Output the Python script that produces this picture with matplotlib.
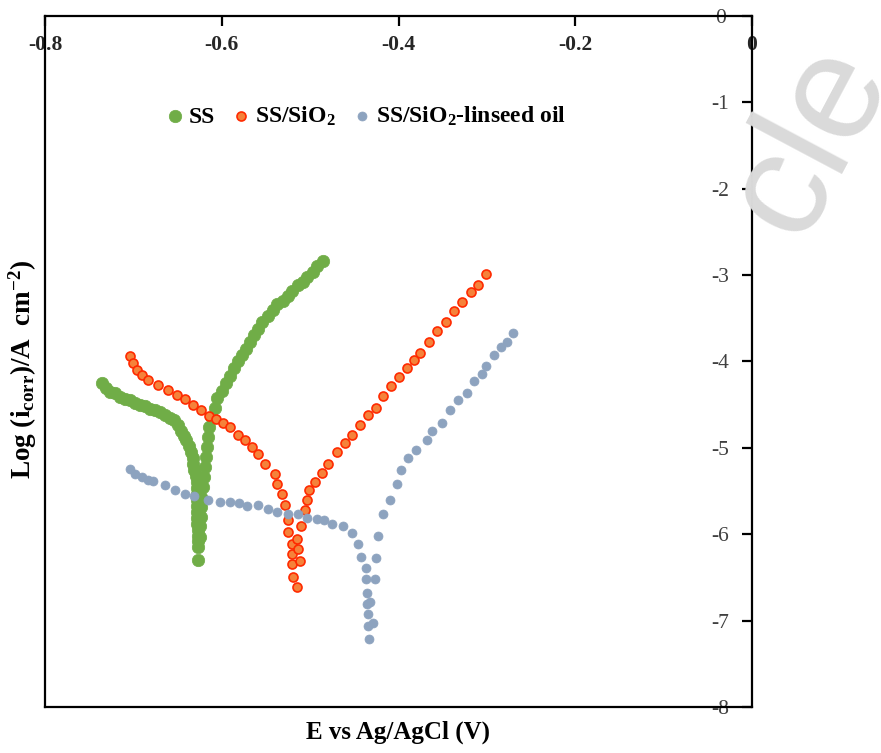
import matplotlib

matplotlib.use("Agg")
import matplotlib.pyplot as plt  # noqa: E402

plt.rcParams["font.family"] = ["Liberation Serif", "DejaVu Serif"]
plt.rcParams["axes.unicode_minus"] = False
plt.rcParams["mathtext.fontset"] = "custom"
plt.rcParams["mathtext.rm"] = "Liberation Serif:bold"
plt.rcParams["mathtext.it"] = "Liberation Serif:bold:italic"
plt.rcParams["mathtext.bf"] = "Liberation Serif:bold"

# --- SS: cathodic branch (down to Ecorr), then anodic branch (up)
ss_cath_E = [-0.736, -0.731, -0.727, -0.721, -0.715, -0.710, -0.704, -0.698,
             -0.693, -0.687, -0.681, -0.676, -0.670, -0.664, -0.659, -0.654,
             -0.650, -0.646, -0.643, -0.640, -0.637, -0.635, -0.633, -0.632,
             -0.631, -0.629, -0.628, -0.628, -0.628, -0.628, -0.628, -0.628,
             -0.628, -0.628, -0.627, -0.627, -0.627, -0.627, -0.627]
ss_cath_logi = [-4.25, -4.31, -4.35, -4.37, -4.41, -4.43, -4.45, -4.48,
                -4.50, -4.52, -4.55, -4.56, -4.58, -4.62, -4.65, -4.68,
                -4.74, -4.80, -4.86, -4.91, -4.98, -5.05, -5.12, -5.19,
                -5.26, -5.33, -5.40, -5.47, -5.53, -5.60, -5.67, -5.74,
                -5.81, -5.88, -5.95, -6.02, -6.08, -6.15, -6.30]
ss_anod_E = [-0.625, -0.625, -0.624, -0.623, -0.623, -0.621, -0.620, -0.619,
             -0.618, -0.617, -0.616, -0.614, -0.611, -0.608, -0.605, -0.600,
             -0.595, -0.591, -0.586, -0.582, -0.577, -0.573, -0.568, -0.564,
             -0.559, -0.554, -0.548, -0.542, -0.537, -0.531, -0.525, -0.520,
             -0.514, -0.508, -0.503, -0.497, -0.492, -0.486]
ss_anod_logi = [-6.03, -5.91, -5.80, -5.68, -5.57, -5.45, -5.34, -5.22,
                -5.11, -4.99, -4.88, -4.76, -4.65, -4.54, -4.42, -4.34,
                -4.25, -4.17, -4.08, -4.00, -3.92, -3.85, -3.77, -3.69,
                -3.62, -3.54, -3.47, -3.40, -3.34, -3.30, -3.24, -3.18,
                -3.12, -3.08, -3.02, -2.96, -2.90, -2.84]

# --- SS/SiO2
sio2_cath_E = [-0.704, -0.701, -0.696, -0.690, -0.684, -0.672, -0.661, -0.651,
               -0.642, -0.633, -0.623, -0.614, -0.606, -0.599, -0.591, -0.582,
               -0.574, -0.566, -0.559, -0.551, -0.540, -0.537, -0.532, -0.529,
               -0.525, -0.525, -0.521, -0.521, -0.520, -0.519, -0.515]
sio2_cath_logi = [-3.94, -4.02, -4.10, -4.16, -4.21, -4.27, -4.33, -4.39,
                  -4.44, -4.50, -4.56, -4.63, -4.67, -4.71, -4.76, -4.85,
                  -4.91, -4.99, -5.07, -5.19, -5.30, -5.42, -5.53, -5.66,
                  -5.83, -5.97, -6.11, -6.23, -6.35, -6.49, -6.61]
sio2_anod_E = [-0.512, -0.514, -0.515, -0.510, -0.506, -0.504, -0.501, -0.495,
               -0.487, -0.480, -0.470, -0.461, -0.453, -0.444, -0.435, -0.425,
               -0.418, -0.408, -0.399, -0.390, -0.382, -0.376, -0.365, -0.356,
               -0.346, -0.337, -0.328, -0.318, -0.310, -0.301]
sio2_anod_logi = [-6.31, -6.17, -6.06, -5.91, -5.72, -5.60, -5.49, -5.40,
                  -5.29, -5.19, -5.05, -4.94, -4.85, -4.73, -4.62, -4.54,
                  -4.40, -4.28, -4.18, -4.08, -3.98, -3.90, -3.77, -3.65,
                  -3.54, -3.42, -3.31, -3.19, -3.11, -2.99]

# --- SS/SiO2-linseed oil
oil_cath_E = [-0.704, -0.698, -0.690, -0.684, -0.678, -0.664, -0.653, -0.642,
              -0.631, -0.616, -0.602, -0.591, -0.580, -0.571, -0.559, -0.548,
              -0.537, -0.525, -0.514, -0.503, -0.492, -0.484, -0.475, -0.463,
              -0.453, -0.446, -0.442, -0.437, -0.437, -0.436, -0.436, -0.435,
              -0.435, -0.433]
oil_cath_logi = [-5.25, -5.30, -5.34, -5.37, -5.38, -5.43, -5.49, -5.53,
                 -5.56, -5.60, -5.63, -5.63, -5.64, -5.67, -5.66, -5.71,
                 -5.74, -5.76, -5.77, -5.81, -5.82, -5.83, -5.88, -5.91,
                 -5.99, -6.11, -6.26, -6.39, -6.52, -6.68, -6.81, -6.92,
                 -7.06, -7.21]
oil_anod_E = [-0.429, -0.432, -0.427, -0.425, -0.423, -0.417, -0.410, -0.402,
              -0.397, -0.389, -0.380, -0.368, -0.362, -0.351, -0.342, -0.333,
              -0.323, -0.315, -0.306, -0.301, -0.292, -0.284, -0.277, -0.270]
oil_anod_logi = [-7.03, -6.79, -6.52, -6.27, -6.02, -5.77, -5.60, -5.42,
                 -5.26, -5.12, -5.02, -4.91, -4.80, -4.71, -4.56, -4.45,
                 -4.36, -4.23, -4.14, -4.05, -3.93, -3.83, -3.77, -3.67]

x_ticks = [-0.8, -0.6, -0.4, -0.2, 0.0]
x_labels = ["-0.8", "-0.6", "-0.4", "-0.2", "0"]
y_ticks = [0, -1, -2, -3, -4, -5, -6, -7, -8]

fig = plt.figure(figsize=(8.81, 7.53), dpi=100)

# faint journal watermark at the top right (runs off the edge, as in the source)
fig.text(0.92, 0.815, "cle", rotation=62, ha="center", va="center",
         fontsize=108, color="#dadada", family="Liberation Sans", zorder=0)

ax = fig.add_axes([0.0511, 0.0611, 0.8025, 0.9177])
ax.patch.set_alpha(0)

ax.scatter(ss_cath_E + ss_anod_E, ss_cath_logi + ss_anod_logi, s=80,
           color="#70AD47", edgecolor="#70AD47", linewidth=0.5, label="SS",
           zorder=3)
ax.scatter(sio2_cath_E + sio2_anod_E, sio2_cath_logi + sio2_anod_logi, s=42,
           color="#F5823A", edgecolor="#FF2A00", linewidth=1.2,
           label=r"SS/SiO$_2$", zorder=4)
ax.scatter(oil_cath_E + oil_anod_E, oil_cath_logi + oil_anod_logi, s=42,
           color="#8DA3BF", edgecolor="#8DA3BF", linewidth=0.5,
           label=r"SS/SiO$_2$-linseed oil", zorder=5)

ax.set_xlim(-0.8, 0.0)
ax.set_ylim(-8, 0)
for side in ("left", "right", "top", "bottom"):
    ax.spines[side].set_linewidth(1.6)

ax.xaxis.set_ticks_position("top")
ax.set_xticks(x_ticks)
ax.set_xticklabels(x_labels)
ax.tick_params(axis="x", direction="in", length=7, width=1.6, pad=-21,
               labelsize=15.5, labelcolor="#262626")
plt.setp(ax.get_xticklabels(), va="center", fontweight="bold")

ax.yaxis.set_ticks_position("right")
ax.set_yticks(y_ticks)
ax.tick_params(axis="y", direction="in", length=7, width=1.6, pad=-23,
               labelsize=15.5, labelcolor="#404040")
plt.setp(ax.get_yticklabels(), ha="center")

fig.text(0.452, 0.027, "E vs Ag/AgCl (V)", ha="center", va="center",
         fontsize=18, fontweight="bold")
fig.text(0.026, 0.51, r"Log (i$_{\mathrm{corr}}$)/A  cm$^{\mathrm{-2}}$)",
         ha="center", va="center", rotation=90, fontsize=19.5,
         fontweight="bold")

ax.legend(loc="center", bbox_to_anchor=(0.452, 0.855), ncol=3,
          frameon=False, handletextpad=0.1, columnspacing=0.6,
          borderaxespad=0, handlelength=1.0,
          prop={"family": "Liberation Serif", "weight": "bold", "size": 17})

fig.savefig("out.png", dpi=100)
